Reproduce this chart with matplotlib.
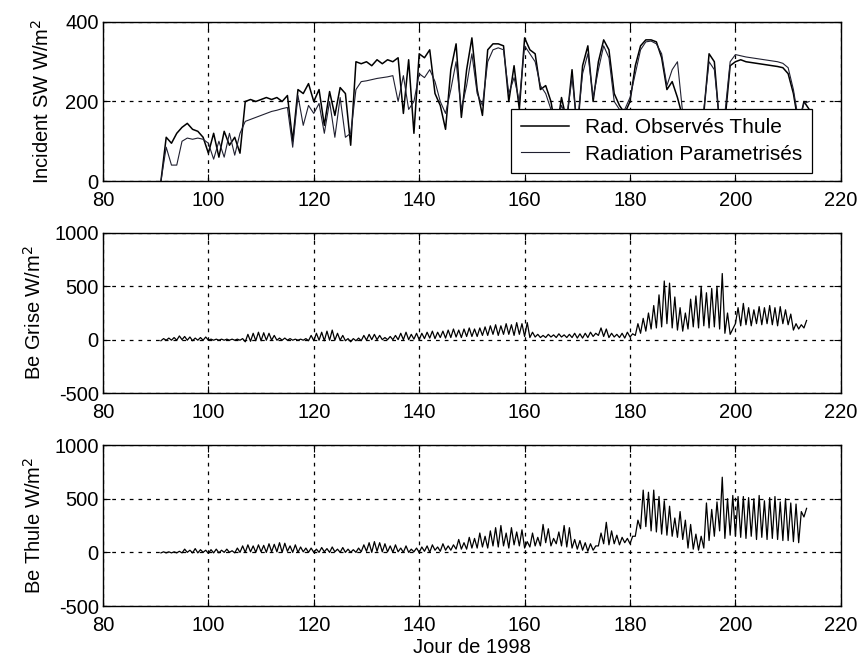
import numpy as np
import matplotlib
matplotlib.use("Agg")
import matplotlib.pyplot as plt

plt.rcParams["font.family"] = ["Liberation Sans", "DejaVu Sans"]
plt.rcParams["axes.unicode_minus"] = False

# --- top panel: incident short-wave, daily values (day 91 .. 214) ---
sw_days = list(range(91, 215))
sw_obs = [0, 110, 95, 120, 135, 145, 130, 125, 110, 70,           # 91-100
          120, 60, 125, 90, 110, 70, 200, 205, 200, 205,          # 101-110
          210, 205, 210, 200, 215, 100, 230, 220, 245, 200,       # 111-120
          230, 140, 225, 165, 235, 220, 90, 300, 295, 300,        # 121-130
          290, 305, 295, 305, 300, 310, 170, 305, 120, 320,       # 131-140
          310, 330, 220, 190, 130, 280, 345, 160, 280, 360,       # 141-150
          230, 165, 330, 345, 345, 340, 200, 290, 180, 360,       # 151-160
          330, 320, 230, 240, 200, 120, 210, 150, 280, 120,       # 161-170
          290, 340, 200, 300, 355, 330, 220, 190, 170, 200,       # 171-180
          290, 340, 355, 355, 350, 310, 230, 250, 210, 160,       # 181-190
          120, 150, 110, 170, 320, 300, 140, 150, 290, 300,       # 191-200
          305, 300, 298, 296, 294, 292, 290, 288, 285, 270,       # 201-210
          220, 140, 200, 180]                                     # 211-214
sw_param = [0, 85, 40, 40, 100, 108, 105, 108, 105, 95,
            55, 100, 60, 120, 65, 120, 150, 155, 160, 165,
            170, 175, 178, 182, 185, 85, 215, 140, 190, 170,
            195, 120, 200, 110, 210, 110, 120, 230, 250, 252,
            255, 258, 260, 262, 265, 200, 265, 180, 200, 270,
            260, 280, 250, 200, 170, 230, 300, 180, 240, 320,
            220, 190, 300, 330, 335, 330, 220, 260, 200, 340,
            320, 300, 240, 220, 180, 140, 190, 160, 260, 140,
            270, 320, 210, 280, 340, 310, 200, 180, 180, 210,
            270, 330, 350, 352, 345, 320, 240, 280, 300, 170,
            130, 140, 120, 180, 300, 280, 150, 170, 300, 318,
            315, 312, 310, 308, 306, 304, 302, 300, 296, 285,
            230, 150, 195, 200]

# --- lower panels: daily minimum (midnight) and maximum (noon), day 91 .. 213 ---
be_days = list(range(91, 214))
grise_hi = [10, 15, 20, 35, 30, 25, 15, 20, 25,
            5, 5, 5, 5, 5, 5, 10,
            50, 60, 70, 65, 60, 40,
            15, 15, 10, 5, 5, 10,
            40, 60, 70, 80, 90, 60, 40,
            10, 10, 15,
            40, 50, 50, 40, 20,
            30, 40, 60, 70, 50, 60, 60,
            70, 80, 70, 80, 90, 100, 90, 100, 110, 100,
            110, 120, 130, 140, 130, 150, 140, 160, 150, 160,
            70, 50, 40, 50, 45, 55, 45, 50, 60, 55,
            60, 70, 60, 110, 100, 60, 50, 60, 70, 55,
            150, 200, 250, 320, 420, 550, 530, 400, 300, 250,
            380, 410, 500, 440, 480, 500, 620, 250, 100, 300,
            340, 300, 280, 310, 300, 320, 300, 310, 280, 240,
            150, 140, 180]
grise_lo = [-10, -5, -5, -5, 0, -5, -10, -5, -5,
            -5, -5, -5, -5, -5, -5, -5,
            -20, -15, -10, -10, -5, -5,
            -5, -5, -5, -5, -5, -5,
            -10, -10, -5, -10, -5, -5, -5,
            -10, -20, -10,
            -10, -5, 0, 0, 0,
            0, 0, 0, 0, 0, 5, 0,
            10, 15, 10, 20, 15, 20, 25, 20, 30, 30,
            30, 40, 40, 50, 40, 50, 50, 40, 50, 30,
            20, 25, 20, 20, 25, 20, 25, 20, 20, 15,
            15, 20, 30, 40, 30, 20, 25, 20, 15, 25,
            40, 60, 80, 100, 110, 120, 150, 110, 90, 80,
            100, 120, 110, 130, 110, 120, 100, 60, 50, 150,
            130, 140, 130, 150, 140, 150, 140, 130, 150, 140,
            90, 100, 110]
thule_hi = [5, 5, 5, 10, 30, 20, 35, 25, 20,
            25, 30, 20, 30, 15, 40, 60,
            70, 60, 70, 65, 80, 75,
            90, 85, 60, 70, 50, 40,
            40, 30, 45, 35, 50, 30, 45,
            30, 25, 40,
            70, 90, 100, 90, 80,
            60, 70, 40, 60, 30, 40, 50,
            60, 70, 50, 80, 60, 70, 120, 90, 140, 130,
            180, 150, 200, 230, 250, 180, 230, 190, 210, 100,
            180, 140, 260, 220, 130, 190, 250, 230, 120, 110,
            90, 80, 60, 180, 280, 200, 160, 140, 130, 150,
            300, 580, 560, 580, 520, 480, 430, 320, 380, 300,
            260, 170, 150, 460, 400, 470, 700, 500, 530, 520,
            520, 510, 500, 530, 480, 510, 520, 470, 500, 460,
            450, 380, 410]
thule_lo = [-5, -5, -5, -5, -5, 0, -5, -5, 0,
            -10, -5, -5, 0, 0, -5, 0,
            0, 5, 0, 5, 0, 5,
            5, 0, 10, 0, 0, 5,
            0, 0, 0, 5, 0, 5, 0,
            0, 0, 0,
            5, 10, 0, 10, 5,
            5, 0, 5, 0, 0, 5, 0,
            10, 0, 20, 10, 20, 20, 30, 30, 30, 40,
            40, 50, 40, 60, 50, 60, 40, 70, 60, 40,
            50, 60, 60, 90, 60, 80, 60, 50, 40, 30,
            20, 10, 20, 60, 80, 70, 80, 70, 90, 80,
            150, 220, 240, 200, 190, 170, 160, 150, 140, 120,
            40, 30, 20, 40, 110, 150, 200, 130, 160, 150,
            140, 130, 150, 120, 140, 120, 130, 120, 110, 110,
            100, 90, 330]


def zigzag(days, lo, hi):
    # midnight minimum, noon maximum
    t = np.column_stack([np.asarray(days, float), np.asarray(days, float) + 0.5]).ravel()
    v = np.column_stack([lo, hi]).ravel()
    return t, v


FS = 14.5

fig = plt.figure(figsize=(8.58, 6.64), dpi=100)
left, width = 0.120, 0.860
ax1 = fig.add_axes([left, 0.7274, width, 0.2395])
ax2 = fig.add_axes([left, 0.4081, width, 0.2410])
ax3 = fig.add_axes([left, 0.0873, width, 0.2425])

ax1.plot(sw_days, sw_obs, color="black", lw=1.1, label="Rad. Observés Thule")
ax1.plot(sw_days, sw_param, color="#202030", lw=0.8, label="Radiation Parametrisés")
ax1.set_ylim(0, 400)
ax1.set_yticks([0, 200, 400])
ax1.set_ylabel("Incident SW W/m$^2$", labelpad=9)
leg = ax1.legend(loc="lower right", bbox_to_anchor=(0.961, 0.05), fancybox=False,
                 framealpha=1, edgecolor="black", borderaxespad=0, handlelength=2.3,
                 fontsize=15, borderpad=0.45, labelspacing=0.35)
leg.get_frame().set_linewidth(0.9)

t, v = zigzag(be_days, grise_lo, grise_hi)
ax2.plot(t, v, color="black", lw=0.9)
ax2.set_ylabel("Be Grise W/m$^2$", labelpad=7)

t, v = zigzag(be_days, thule_lo, thule_hi)
ax3.plot(t, v, color="black", lw=0.9)
ax3.set_ylabel("Be Thule W/m$^2$", labelpad=7)
ax3.set_xlabel("Jour de 1998", labelpad=2)

for ax in (ax2, ax3):
    ax.set_ylim(-500, 1000)
    ax.set_yticks([-500, 0, 500, 1000])

for ax in (ax1, ax2, ax3):
    ax.set_xlim(80, 220)
    ax.set_xticks(range(80, 221, 20))
    ax.grid(True, color="black", linestyle=(0, (3, 4)), lw=0.9)
    ax.tick_params(direction="in", top=True, right=True, labelsize=FS, length=5)
    ax.tick_params(axis="y", pad=3)
    ax.tick_params(axis="x", pad=7)
    ax.yaxis.label.set_size(FS)
    ax.xaxis.label.set_size(FS)
    for s in ax.spines.values():
        s.set_linewidth(1.0)

fig.savefig("out.png", dpi=100)
